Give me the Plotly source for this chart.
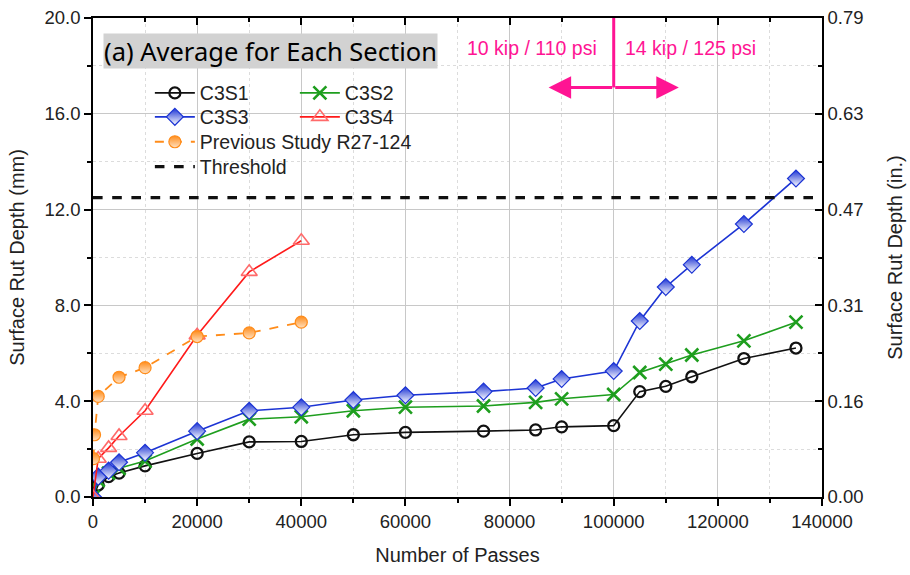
import plotly.graph_objects as go

# Number of passes at each survey for the four C3 sections
passes = [0, 1000, 3000, 5000, 10000, 20000, 30000, 40000, 50000, 60000,
          75000, 85000, 90000, 100000, 105000, 110000, 115000, 125000, 135000]
c3s1 = [0, 0.5, 0.85, 1.0, 1.3, 1.82, 2.3, 2.32, 2.6, 2.7,
        2.75, 2.8, 2.93, 2.98, 4.4, 4.62, 5.02, 5.78, 6.22]
c3s2 = [0, 0.7, 1.0, 1.2, 1.5, 2.42, 3.25, 3.35, 3.6, 3.75,
        3.8, 3.95, 4.1, 4.28, 5.2, 5.55, 5.93, 6.52, 7.3]
c3s3 = [0, 0.85, 1.1, 1.45, 1.85, 2.75, 3.6, 3.75, 4.05, 4.25,
        4.4, 4.55, 4.93, 5.26, 7.35, 8.77, 9.7, 11.4, 13.3]

# C3S4 was only loaded to 40,000 passes
passes_s4 = [0, 1000, 3000, 5000, 10000, 20000, 30000, 40000]
c3s4 = [0, 1.6, 2.05, 2.55, 3.6, 6.75, 9.4, 10.7]

# Previous study R27-124
passes_prev = [100, 300, 1000, 5000, 10000, 20000, 30000, 40000]
prev_study = [1.6, 2.6, 4.2, 5.0, 5.4, 6.7, 6.85, 7.3]

# Rut depth threshold (mm) and axis limits
threshold_mm = 12.5
x_max = 140000
y_max_mm = 20.0
mm_ticks = [0, 4, 8, 12, 16, 20]
MM_PER_IN = 25.4

FONT = "Liberation Sans, Arial, sans-serif"
PINK = "#ff1493"

fig = go.Figure()

fig.add_trace(go.Scatter(
    x=passes, y=c3s1, name="C3S1", mode="lines+markers", legend="legend",
    line=dict(color="#111111", width=1.6),
    marker=dict(symbol="circle-open", size=11, color="#111111",
                line=dict(width=2.3, color="#111111")),
))
fig.add_trace(go.Scatter(
    x=passes, y=c3s2, name="C3S2", mode="lines+markers", legend="legend",
    line=dict(color="#1e9e1e", width=1.6),
    marker=dict(symbol="x-thin-open", size=13, color="#1e9e1e",
                line=dict(width=2.6, color="#1e9e1e")),
))
fig.add_trace(go.Scatter(
    x=passes, y=c3s3, name="C3S3", mode="lines+markers", legend="legend2",
    line=dict(color="#1c34d4", width=1.6),
    marker=dict(symbol="diamond", size=13, color="#1c34d4",
                gradient=dict(type="vertical", color="white"),
                line=dict(width=1.2, color="#1c34d4")),
))
fig.add_trace(go.Scatter(
    x=passes_s4, y=c3s4, name="C3S4", mode="lines+markers", legend="legend2",
    line=dict(color="#ff1a1a", width=1.6),
    marker=dict(symbol="triangle-up-open", size=14, color="#ff6a6a",
                line=dict(width=1.6, color="#ff6a6a")),
))
fig.add_trace(go.Scatter(
    x=passes_prev, y=prev_study, name="Previous Study R27-124",
    mode="lines+markers", legend="legend3",
    line=dict(color="#ff8c1a", width=1.8, dash="dash"),
    marker=dict(symbol="circle", size=12, color="#ff8c1a",
                gradient=dict(type="vertical", color="#ffe0c0"),
                line=dict(width=1.2, color="#ff8c1a")),
))
fig.add_trace(go.Scatter(
    x=[0, x_max], y=[threshold_mm, threshold_mm], name="Threshold",
    mode="lines", legend="legend4",
    line=dict(color="#111111", width=3.2, dash="dash"),
))

# Empty traces so the mirrored top axis and the inch axis get drawn
fig.add_trace(go.Scatter(x=[], y=[], xaxis="x2", yaxis="y", showlegend=False))
fig.add_trace(go.Scatter(x=[], y=[], xaxis="x", yaxis="y2", showlegend=False))

axis_font = dict(family=FONT, size=18.5, color="#222222")
title_font = dict(family=FONT, size=20, color="#222222")
legend_font = dict(family=FONT, size=19.5, color="#222222")


def legend_row(y, horizontal=True):
    spec = dict(x=0.078, y=y, xanchor="left", yanchor="middle",
                bgcolor="rgba(0,0,0,0)", font=legend_font, itemwidth=40)
    if horizontal:
        spec.update(orientation="h", entrywidth=90)
    return spec


fig.update_layout(
    width=910, height=575,
    margin=dict(l=93, r=88, t=18, b=78, autoexpand=False),
    paper_bgcolor="white", plot_bgcolor="white",
    font=dict(family=FONT, color="#222222"),
    xaxis=dict(
        range=[0, x_max], tickvals=list(range(0, x_max + 1, 20000)),
        tickformat="d", tickfont=axis_font, automargin=False,
        title=dict(text="Number of Passes", font=title_font, standoff=17),
        showline=True, linecolor="black", linewidth=1.6,
        ticks="outside", ticklen=7, tickwidth=1.5, tickcolor="black",
        showgrid=True, gridcolor="#c8c8c8", gridwidth=1.4,
        minor=dict(dtick=10000, ticks="outside", ticklen=4, tickcolor="black",
                   showgrid=True, gridcolor="#dcdcdc", griddash="dot", gridwidth=1),
        zeroline=False,
    ),
    xaxis2=dict(
        range=[0, x_max], overlaying="x", side="top", anchor="y",
        showticklabels=False, showgrid=False, zeroline=False, automargin=False,
        showline=True, linecolor="black", linewidth=1.6,
        tickvals=list(range(0, x_max + 1, 20000)),
        ticks="inside", ticklen=7, tickwidth=1.5, tickcolor="black",
        minor=dict(dtick=10000, ticks="inside", ticklen=4, tickcolor="black"),
    ),
    yaxis=dict(
        range=[0, y_max_mm], tickvals=mm_ticks, tickformat=".1f",
        tickfont=axis_font, automargin=False,
        title=dict(text="Surface Rut Depth (mm)", font=title_font, standoff=14),
        showline=True, linecolor="black", linewidth=1.6,
        ticks="outside", ticklen=7, tickwidth=1.5, tickcolor="black",
        showgrid=True, gridcolor="#c8c8c8", gridwidth=1.4,
        minor=dict(dtick=2, ticks="outside", ticklen=4, tickcolor="black",
                   showgrid=True, gridcolor="#dcdcdc", griddash="dot", gridwidth=1),
        zeroline=False,
    ),
    yaxis2=dict(
        range=[0, y_max_mm / MM_PER_IN], overlaying="y", side="right", anchor="x",
        tickvals=[t / MM_PER_IN for t in mm_ticks],
        ticktext=[f"{t / MM_PER_IN:.2f}" for t in mm_ticks],
        tickfont=axis_font, automargin=False,
        title=dict(text="Surface Rut Depth (in.)", font=title_font, standoff=25),
        showline=True, linecolor="black", linewidth=1.6,
        ticks="inside", ticklen=7, tickwidth=1.5, tickcolor="black",
        minor=dict(tickvals=[t / MM_PER_IN for t in range(2, 20, 4)],
                   ticks="inside", ticklen=4, tickcolor="black"),
        showgrid=False, zeroline=False,
    ),
    legend=legend_row(0.843),
    legend2=legend_row(0.793),
    legend3=legend_row(0.741, horizontal=False),
    legend4=legend_row(0.689, horizontal=False),
)

# Panel label
fig.add_annotation(
    text="(a) Average for Each Section", xref="paper", yref="paper",
    x=0.014, y=0.969, xanchor="left", yanchor="top", showarrow=False,
    font=dict(family="Noto Sans, Open Sans, sans-serif", size=25.5, color="black"),
    bgcolor="#d2d2d2", borderpad=0,
)

# Load change at 100,000 passes
load_change = 100000
arrow_y = 17.1
fig.add_shape(type="line", x0=load_change, x1=load_change, y0=arrow_y, y1=y_max_mm,
              xref="x", yref="y", line=dict(color=PINK, width=3))
for tip in (87500, 112500):
    fig.add_annotation(
        x=tip, y=arrow_y, ax=load_change, ay=arrow_y, xref="x", yref="y",
        axref="x", ayref="y", showarrow=True, text="",
        arrowhead=2, arrowsize=1.5, arrowwidth=3, arrowcolor=PINK,
    )
fig.add_annotation(text="10 kip / 110 psi", x=84300, y=18.75, xref="x", yref="y",
                   showarrow=False, font=dict(family=FONT, size=19.5, color=PINK))
fig.add_annotation(text="14 kip / 125 psi", x=114700, y=18.75, xref="x", yref="y",
                   showarrow=False, font=dict(family=FONT, size=19.5, color=PINK))

fig.write_html("out.html")
